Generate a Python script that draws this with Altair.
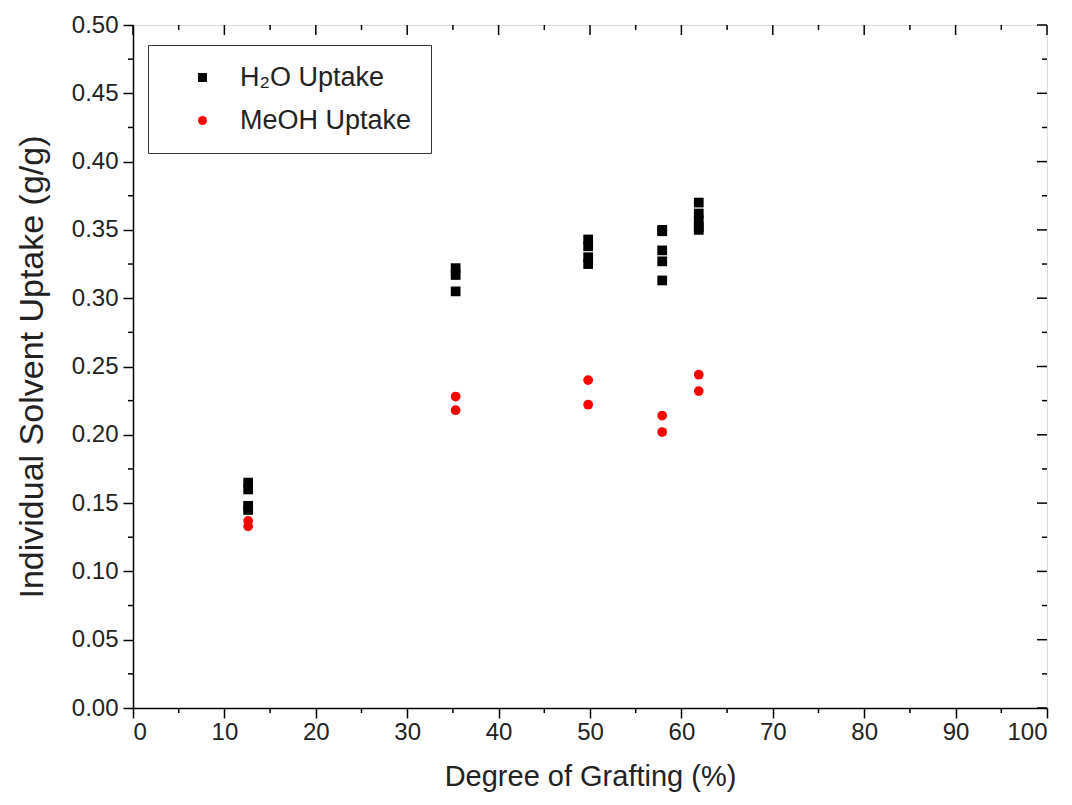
import altair as alt
import pandas as pd

# Data
h2o_x = [12.6]*4 + [35.3]*3 + [49.8]*4 + [57.9]*5 + [61.9]*5
h2o_y = [0.165, 0.160, 0.148, 0.145,
         0.322, 0.317, 0.305,
         0.343, 0.338, 0.330, 0.325,
         0.350, 0.349, 0.335, 0.327, 0.313,
         0.370, 0.362, 0.357, 0.352, 0.350]
meoh_x = [12.6]*2 + [35.3]*2 + [49.8]*2 + [57.9]*2 + [61.9]*2
meoh_y = [0.137, 0.133, 0.228, 0.218, 0.240, 0.222, 0.214, 0.202, 0.244, 0.232]

series = ["H₂O Uptake", "MeOH Uptake"]
x_major = [0, 10, 20, 30, 40, 50, 60, 70, 80, 90, 100]
x_minor = [5, 15, 25, 35, 45, 55, 65, 75, 85, 95]
y_major = [0, 0.05, 0.10, 0.15, 0.20, 0.25, 0.30, 0.35, 0.40, 0.45, 0.50]
y_minor = [0.025, 0.075, 0.125, 0.175, 0.225, 0.275, 0.325, 0.375, 0.425, 0.475]

df = pd.DataFrame({
    "x": h2o_x + meoh_x,
    "y": h2o_y + meoh_y,
    "s": [series[0]]*len(h2o_x) + [series[1]]*len(meoh_x),
})

W, H = 914, 683
FONT = "Liberation Sans"

xscale = alt.Scale(domain=[0, 100], nice=False, zero=False)
yscale = alt.Scale(domain=[0, 0.5], nice=False, zero=False)

points = alt.Chart(df).mark_point(filled=True, opacity=1).encode(
    x=alt.X("x:Q", scale=xscale,
            axis=alt.Axis(values=x_major, title="Degree of Grafting (%)", format="d",
                          tickSize=10, tickWidth=1.5, tickColor="black",
                          domainColor="black", domainWidth=1.5,
                          labelFontSize=24, labelColor="#222", labelPadding=2,
                          titleFontSize=29, titleFontWeight="normal", titleColor="#222",
                          titlePadding=18, grid=False, labelFont=FONT, titleFont=FONT)),
    y=alt.Y("y:Q", scale=yscale,
            axis=alt.Axis(values=y_major, title="Individual Solvent Uptake (g/g)", format=".2f",
                          tickSize=10, tickWidth=1.5, tickColor="black",
                          domainColor="black", domainWidth=1.5,
                          labelFontSize=24, labelColor="#222", labelPadding=5,
                          titleFontSize=34, titleFontWeight="normal", titleColor="#222",
                          titlePadding=22, grid=False, labelFont=FONT, titleFont=FONT)),
    color=alt.Color("s:N", scale=alt.Scale(domain=series, range=["black", "#ff0000"]),
                    legend=alt.Legend(title=None, orient="none", legendX=15, legendY=20,
                                      strokeColor="#333", fillColor="white", padding=19,
                                      symbolOffset=22, labelOffset=24,
                                      labelFontSize=27, labelFont=FONT, labelColor="#222",
                                      rowPadding=15, symbolSize=80, labelLimit=400)),
    shape=alt.Shape("s:N", scale=alt.Scale(domain=series, range=["square", "circle"]), legend=None),
    size=alt.value(95),
)

xmin_df = pd.DataFrame({"v": x_minor})
xmaj_df = pd.DataFrame({"v": x_major})
ymin_df = pd.DataFrame({"v": y_minor})
ymaj_df = pd.DataFrame({"v": y_major})

def xrule(d, y0, y1):
    return alt.Chart(d).mark_rule(color="black", strokeWidth=1.5).encode(
        x=alt.X("v:Q", scale=xscale), y=alt.value(y0), y2=alt.value(y1))

def yrule(d, x0, x1):
    return alt.Chart(d).mark_rule(color="black", strokeWidth=1.5).encode(
        y=alt.Y("v:Q", scale=yscale), x=alt.value(x0), x2=alt.value(x1))

chart = alt.layer(
    xrule(xmin_df, H, H + 5),
    xrule(xmaj_df, 0, 10),
    xrule(xmin_df, 0, 5),
    yrule(ymin_df, -5, 0),
    yrule(ymaj_df, W - 10, W),
    yrule(ymin_df, W - 5, W),
    points,
).properties(
    width=W, height=H,
    autosize=alt.AutoSizeParams(type="none"),
    padding={"left": 125, "top": 17, "right": 17, "bottom": 95},
).configure_view(
    stroke="black", strokeWidth=1.5
).configure(background="white")

chart.save("out.html", embed_options={"renderer": "svg", "actions": False})
